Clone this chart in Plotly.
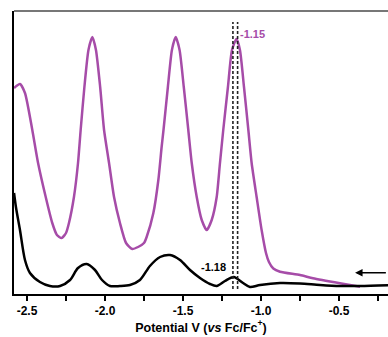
import plotly.graph_objects as go

# Potential (V vs Fc/Fc+) and current (arbitrary units)
purple_v = [-2.583, -2.545, -2.513, -2.466, -2.429, -2.380, -2.338, -2.308, -2.278, -2.250,
            -2.231, -2.199, -2.173, -2.156, -2.132, -2.106, -2.081, -2.058, -2.031, -2.006,
            -1.974, -1.942, -1.904, -1.865, -1.825, -1.788, -1.750, -1.733, -1.690, -1.658,
            -1.637, -1.625, -1.597, -1.571, -1.547, -1.522, -1.495, -1.466, -1.444, -1.412,
            -1.380, -1.348, -1.316, -1.284, -1.263, -1.242, -1.212, -1.186, -1.157, -1.135,
            -1.109, -1.081, -1.060, -1.028, -0.996, -0.968, -0.949, -0.921, -0.878, -0.750,
            -0.667, -0.494, -0.365]
purple_i = [206, 210, 201, 164, 131, 97, 71, 59, 56, 61,
            71, 97, 131, 164, 207, 244, 257, 244, 207, 164,
            131, 97, 71, 51, 45, 47, 51, 57, 81, 114,
            147, 164, 207, 244, 257, 244, 207, 164, 131, 97,
            74, 64, 74, 97, 131, 164, 207, 244, 255, 244,
            207, 164, 131, 97, 64, 41, 32, 25.5, 22.3, 19,
            15.7, 10.7, 7.3]

black_v = [-2.583, -2.571, -2.545, -2.513, -2.481, -2.417, -2.353, -2.288, -2.224, -2.173,
           -2.117, -2.064, -2.019, -1.968, -1.904, -1.840, -1.776, -1.712, -1.647, -1.583,
           -1.519, -1.455, -1.391, -1.327, -1.284, -1.231, -1.175, -1.115, -1.071, -1.006,
           -0.878, -0.750, -0.622, -0.494, -0.365, -0.150]
black_i = [101, 87, 64, 34, 21, 12, 8, 8, 14, 26,
           30, 24, 14, 8, 8, 9, 14, 28, 37, 39,
           34, 24, 16, 10, 8, 13, 17, 11, 7, 9,
           11, 10.5, 9, 8, 8, 9]

peak_lines = [-1.18, -1.15]
peak_labels = ["-1.18", "-1.15"]
x_ticks = [-2.5, -2.0, -1.5, -1.0, -0.5]

PURPLE = "#A64CA8"
FONT = "Liberation Sans, Arial, sans-serif"

fig = go.Figure()
fig.add_trace(go.Scatter(x=purple_v, y=purple_i, mode="lines",
                         line=dict(color=PURPLE, width=2.5, shape="spline", smoothing=0.6),
                         showlegend=False))
fig.add_trace(go.Scatter(x=black_v, y=black_i, mode="lines",
                         line=dict(color="black", width=2.5, shape="spline", smoothing=0.8),
                         showlegend=False))

for xv in peak_lines:
    fig.add_shape(type="line", x0=xv, x1=xv, y0=5, y1=272, xref="x", yref="y",
                  line=dict(color="#222222", width=1.6, dash="3px,2px"))

fig.add_annotation(x=-1.145, y=260, text="<b>" + peak_labels[1] + "</b>", showarrow=False,
                   xanchor="left", yanchor="middle",
                   font=dict(color=PURPLE, size=11, family=FONT))
fig.add_annotation(x=-1.212, y=27, text="<b>" + peak_labels[0] + "</b>", showarrow=False,
                   xanchor="right", yanchor="middle",
                   font=dict(color="black", size=11, family=FONT))

# scan direction arrow
fig.add_annotation(x=-0.397, y=21.3, ax=-0.19, ay=21.3, xref="x", yref="y",
                   axref="x", ayref="y", text="", showarrow=True,
                   arrowhead=2, arrowsize=1, arrowwidth=1.5, arrowcolor="black")

# top border
fig.add_shape(type="line", x0=0, x1=1, y0=1, y1=1, xref="paper", yref="paper",
              line=dict(color="#777777", width=2))

fig.update_layout(
    width=388, height=337,
    margin=dict(l=14, r=0, t=11, b=43),
    paper_bgcolor="white", plot_bgcolor="white",
    font=dict(family=FONT, color="black"),
    xaxis=dict(range=[-2.5833, -0.1859], tickvals=x_ticks,
               ticktext=["<b>%.1f</b>" % t for t in x_ticks],
               ticks="outside", ticklen=5, tickwidth=1.5, tickcolor="black",
               minor=dict(dtick=0.25, tick0=-2.5, ticks="outside", ticklen=5,
                          tickwidth=1.5, tickcolor="black"),
               showline=True, linecolor="black", linewidth=2,
               showgrid=False, zeroline=False,
               tickfont=dict(size=12, family=FONT),
               title=dict(text="<b>Potential V (<i>vs</i> Fc/Fc<sup>+</sup>)</b>",
                          font=dict(size=12.5, family=FONT),
                          standoff=4)),
    yaxis=dict(range=[0, 283], showticklabels=False, ticks="",
               showline=True, linecolor="black", linewidth=2,
               showgrid=False, zeroline=False),
)

fig.write_html("out.html", config={"displayModeBar": False},
               post_script="document.body.style.margin='0';document.body.style.overflow='hidden';")
